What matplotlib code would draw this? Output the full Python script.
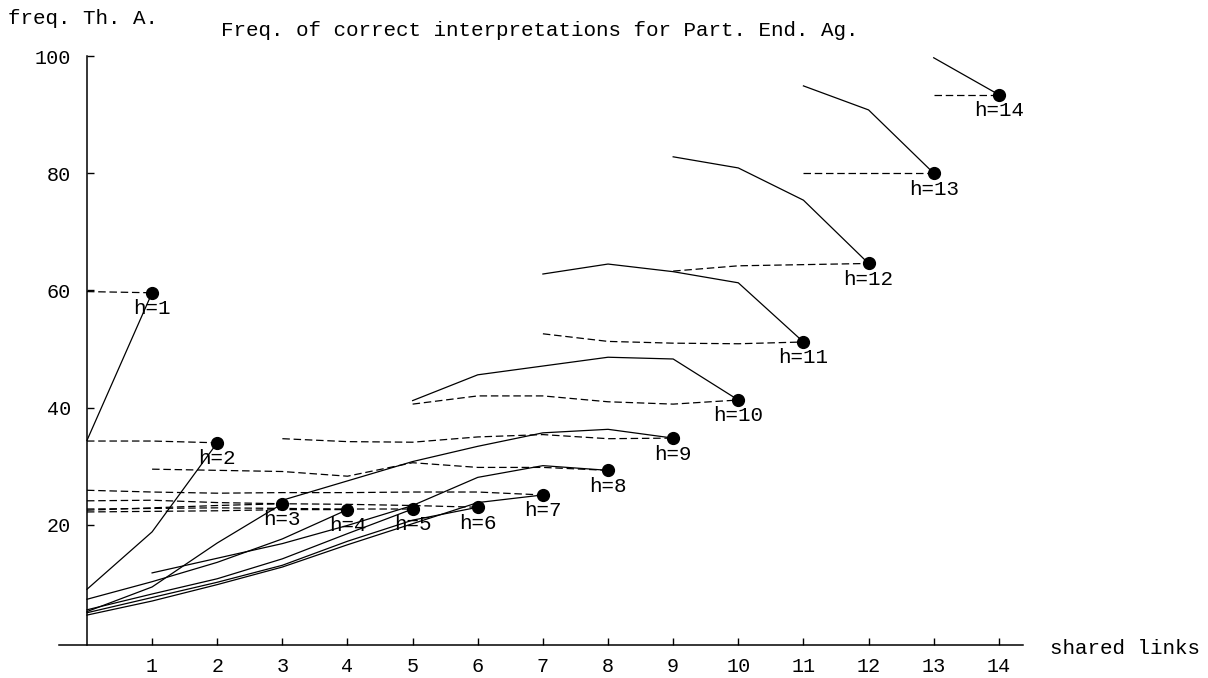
import matplotlib
matplotlib.use("Agg")
import matplotlib.pyplot as plt
import numpy as np

# hop levels, first x of each curve, and the two series per level
h_levels = [1, 2, 3, 4, 5, 6, 7, 8, 9, 10, 11, 12, 13, 14]
start_x = [0, 0, 0, 0, 0, 0, 0, 1, 3, 5, 7, 9, 11, 13]

solid_vals = [
    [34.4, 59.6],
    [9.0, 18.8, 34.0],
    [5.2, 9.4, 16.9, 23.6],
    [7.3, 10.3, 13.6, 17.6, 22.6],
    [5.5, 8.2, 10.8, 14.2, 18.5, 22.7],
    [5.0, 7.6, 10.2, 13.1, 17.2, 20.8, 23.0],
    [4.6, 7.0, 9.8, 12.8, 16.6, 20.2, 23.8, 25.1],
    [11.8, 14.3, 16.8, 19.9, 23.3, 28.1, 30.1, 29.3],
    [24.2, 27.5, 30.8, 33.4, 35.7, 36.3, 34.8],
    [41.2, 45.6, 47.1, 48.6, 48.3, 41.3],
    [62.8, 64.5, 63.2, 61.3, 51.2],
    [82.8, 80.9, 75.4, 64.6],
    [94.9, 90.8, 80.0],
    [99.7, 93.4],
]

dashed_vals = [
    [59.8, 59.6],
    [34.3, 34.3, 34.0],
    [22.5, 22.9, 23.3, 23.6],
    [22.2, 22.3, 22.4, 22.6, 22.6],
    [22.7, 22.8, 22.9, 22.8, 22.7, 22.7],
    [24.1, 24.2, 23.8, 23.6, 23.5, 23.3, 23.0],
    [25.9, 25.6, 25.4, 25.5, 25.5, 25.6, 25.6, 25.1],
    [29.5, 29.3, 29.1, 28.3, 30.6, 29.8, 29.8, 29.3],
    [34.7, 34.2, 34.1, 35.0, 35.4, 34.7, 34.8],
    [40.6, 42.0, 42.0, 41.0, 40.6, 41.3],
    [52.6, 51.3, 51.0, 50.9, 51.2],
    [63.3, 64.2, 64.4, 64.6],
    [80.0, 80.0, 80.0],
    [93.4, 93.4],
]

x_ticks = list(range(1, 15))
y_ticks = [20, 40, 60, 80, 100]

FONT = "Liberation Mono"
FS = 15
TICK_FS = 14.5

fig = plt.figure(figsize=(12.08, 6.78), dpi=100)
ax = fig.add_axes([0.0488, 0.0487, 0.798, 0.8687])

for h, x0, sv, dv in zip(h_levels, start_x, solid_vals, dashed_vals):
    xs = np.arange(x0, x0 + len(sv))
    ax.plot(xs, sv, color="black", lw=0.9)
    xd = np.arange(h - len(dv) + 1, h + 1)
    ax.plot(xd, dv, color="black", lw=0.9, linestyle=(0, (6, 3)))
    ax.plot([h], [sv[-1]], "o", color="black", markersize=8.5)
    ax.annotate(f"h={h}", (h, sv[-1]), xytext=(0, -11.5), textcoords="offset points",
                ha="center", va="center", fontsize=FS, family=FONT)

ax.set_xlim(-0.43, 14.37)
ax.set_ylim(-0.5, 100)

ax.spines["top"].set_visible(False)
ax.spines["right"].set_visible(False)
ax.spines["left"].set_position(("data", 0))
ax.spines["left"].set_bounds(-0.5, 100)
for s in ("left", "bottom"):
    ax.spines[s].set_linewidth(1.1)

ax.set_xticks(x_ticks)
ax.set_yticks(y_ticks)
ax.tick_params(axis="both", direction="in", length=5, width=1, labelsize=TICK_FS)
ax.tick_params(axis="x", pad=9)
ax.tick_params(axis="y", pad=11.5)
for lab in ax.get_xticklabels() + ax.get_yticklabels():
    lab.set_family(FONT)

fig.text(0.007, 0.973, "freq. Th. A.", fontsize=FS, family=FONT, ha="left", va="center")
fig.text(0.447, 0.955, "Freq. of correct interpretations for Part. End. Ag.",
         fontsize=FS, family=FONT, ha="center", va="center")
fig.text(0.869, 0.044, "shared links", fontsize=FS, family=FONT, ha="left", va="center")

fig.savefig("out.png", dpi=100)
